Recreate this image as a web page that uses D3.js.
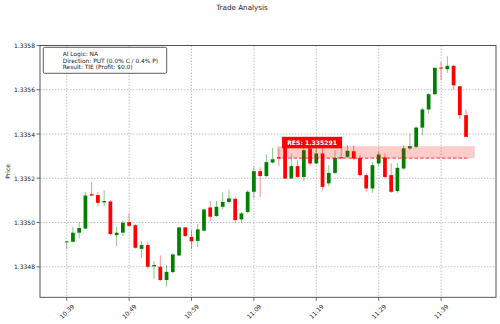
<!DOCTYPE html>
<html><head><meta charset="utf-8">
<script src="https://cdn.jsdelivr.net/npm/d3@7"></script>
<style>
html,body{margin:0;padding:0;background:#fff;}
svg{display:block;font-family:"DejaVu Sans",sans-serif;}
</style></head>
<body><svg id="c" width="500" height="324"></svg>
<script>
const times = ["10:39","10:40","10:41","10:42","10:43","10:44","10:45","10:46","10:47","10:48",
"10:49","10:50","10:51","10:52","10:53","10:54","10:55","10:56","10:57","10:58",
"10:59","11:00","11:01","11:02","11:03","11:04","11:05","11:06","11:07","11:08",
"11:09","11:10","11:11","11:12","11:13","11:14","11:15","11:16","11:17","11:18",
"11:19","11:20","11:21","11:22","11:23","11:24","11:25","11:26","11:27","11:28",
"11:29","11:30","11:31","11:32","11:33","11:34","11:35","11:36","11:37","11:38",
"11:39","11:40","11:41","11:42","11:43"];
const open = [1.334912,1.334913,1.334954,1.334973,1.335128,1.335124,1.335091,1.335095,1.334943,1.334954,
1.335002,1.334988,1.334881,1.334898,1.334802,1.334800,1.334740,1.334776,1.334851,1.334978,
1.334935,1.334917,1.334963,1.335068,1.335029,1.335071,1.335093,1.335107,1.335014,1.335048,
1.335139,1.335232,1.335210,1.335271,1.335295,1.335386,1.335199,1.335255,1.335206,1.335335,
1.335267,1.335312,1.335177,1.335224,1.335295,1.335297,1.335322,1.335292,1.335214,1.335154,
1.335267,1.335294,1.335214,1.335142,1.335244,1.335335,1.335342,1.335429,1.335511,1.335580,
1.335700,1.335693,1.335708,1.335616,1.335485];
const high = [1.334916,1.334981,1.335003,1.335139,1.335184,1.335137,1.335146,1.335101,1.334981,1.335008,
1.335041,1.334993,1.334916,1.334913,1.334826,1.334851,1.334808,1.334860,1.334979,1.334979,
1.334966,1.334993,1.335061,1.335097,1.335097,1.335136,1.335148,1.335113,1.335047,1.335146,
1.335252,1.335249,1.335308,1.335337,1.335335,1.335388,1.335312,1.335282,1.335340,1.335350,
1.335336,1.335336,1.335259,1.335327,1.335364,1.335350,1.335350,1.335304,1.335223,1.335273,
1.335319,1.335313,1.335267,1.335268,1.335350,1.335402,1.335435,1.335520,1.335584,1.335702,
1.335726,1.335751,1.335711,1.335616,1.335511];
const low = [1.334879,1.334910,1.334928,1.334970,1.335119,1.335074,1.335074,1.334943,1.334893,1.334940,
1.334979,1.334882,1.334841,1.334793,1.334746,1.334735,1.334710,1.334770,1.334848,1.334933,
1.334880,1.334889,1.334961,1.335006,1.335026,1.335059,1.335086,1.334999,1.334999,1.335041,
1.335109,1.335116,1.335206,1.335267,1.335256,1.335196,1.335196,1.335199,1.335187,1.335259,
1.335264,1.335146,1.335164,1.335219,1.335289,1.335291,1.335282,1.335207,1.335139,1.335134,
1.335256,1.335200,1.335133,1.335134,1.335237,1.335327,1.335336,1.335395,1.335493,1.335575,
1.335643,1.335676,1.335601,1.335467,1.335386];
const close = [1.334915,1.334954,1.334975,1.335122,1.335122,1.335089,1.335097,1.334948,1.334954,1.334999,
1.334985,1.334886,1.334898,1.334800,1.334808,1.334740,1.334777,1.334856,1.334978,1.334939,
1.334915,1.334969,1.335059,1.335026,1.335071,1.335093,1.335109,1.335011,1.335041,1.335139,
1.335232,1.335210,1.335273,1.335286,1.335291,1.335199,1.335255,1.335206,1.335327,1.335267,
1.335312,1.335161,1.335224,1.335292,1.335292,1.335324,1.335289,1.335214,1.335154,1.335259,
1.335307,1.335206,1.335139,1.335247,1.335335,1.335345,1.335429,1.335511,1.335580,1.335699,
1.335696,1.335708,1.335620,1.335485,1.335387];
const yTickValues = [1.3348,1.3350,1.3352,1.3354,1.3356,1.3358];
const xTickLabels = ["10:39","10:49","10:59","11:09","11:19","11:29","11:39"];
const legendLines = ["AI Logic: NA","Direction: PUT (0.0% C / 0.4% P)","Result: TIE (Profit: $0.0)"];
const resPrice = 1.335291;
const zoneTopPrice = 1.335345;
const zoneStartTime = "11:13";
const zoneEndOffset = 31.7;   // minutes after zone start (shaded zone)
const lineEndOffset = 30.9;   // minutes after zone start (dashed line)
const resLabel = "RES: 1.335291";
const titleText = "Trade Analysis";

const svg = d3.select("#c");
const L=40, R=496, T=45.5, B=297.3;
const idx = t => times.indexOf(t);
const x = d3.scaleLinear().domain([-4.28, 68.8]).range([L, R]);
const y = d3.scaleLinear().domain([1.334662, 1.3358]).range([B, T]);

// grid
const g = svg.append("g");
g.selectAll(".gy").data(yTickValues).join("line")
 .attr("x1",L).attr("x2",R).attr("y1",d=>y(d)).attr("y2",d=>y(d))
 .attr("stroke","#b0b0b0").attr("stroke-width",0.8).attr("stroke-dasharray","1.5,1.5");
g.selectAll(".gx").data(xTickLabels).join("line")
 .attr("x1",d=>x(idx(d))).attr("x2",d=>x(idx(d))).attr("y1",T).attr("y2",B)
 .attr("stroke","#b0b0b0").attr("stroke-width",0.8).attr("stroke-dasharray","1.5,1.5");

// candles
const n = times.length;
const data = d3.range(n).map(i=>({i,o:open[i],h:high[i],l:low[i],c:close[i]}));
const bw = x(0.3)-x(-0.3);
const up = d => d.c >= d.o;
svg.append("g").selectAll("line").data(data).join("line")
 .attr("x1",d=>x(d.i)).attr("x2",d=>x(d.i)).attr("y1",d=>y(d.h)).attr("y2",d=>y(d.l))
 .attr("stroke",d=>up(d)?"#008000":"#ff0000").attr("stroke-opacity",0.45).attr("stroke-width",1);
svg.append("g").selectAll("rect").data(data).join("rect")
 .attr("x",d=>x(d.i)-bw/2).attr("width",bw)
 .attr("y",d=>y(Math.max(d.o,d.c)))
 .attr("height",d=>Math.max(1,Math.abs(y(d.o)-y(d.c))))
 .attr("fill",d=>up(d)?"#008000":"#ff0000");

// resistance zone
const zs = idx(zoneStartTime) - 0.3;
svg.append("rect").attr("x",x(zs)).attr("width",x(zs+zoneEndOffset)-x(zs))
 .attr("y",y(zoneTopPrice)).attr("height",y(resPrice)-y(zoneTopPrice))
 .attr("fill","#ff0000").attr("fill-opacity",0.2);
svg.append("line").attr("x1",x(zs)).attr("x2",x(zs+lineEndOffset))
 .attr("y1",y(resPrice)).attr("y2",y(resPrice))
 .attr("stroke","#ff0000").attr("stroke-opacity",0.8).attr("stroke-width",1).attr("stroke-dasharray","3.5,2");
// label
const lx = x(idx(zoneStartTime)) + 3.2, ly = y(resPrice) - 21.3;
svg.append("rect").attr("x",lx).attr("y",ly).attr("width",60).attr("height",11.5).attr("fill","#ff0000");
svg.append("text").attr("x",lx+30).attr("y",ly+6).attr("text-anchor","middle")
 .attr("dominant-baseline","central").attr("font-size",6.1).attr("font-weight","bold")
 .attr("fill","#fff").text(resLabel);

// spines
svg.append("rect").attr("x",L).attr("y",T).attr("width",R-L).attr("height",B-T)
 .attr("fill","none").attr("stroke","#444").attr("stroke-width",0.9);

// y axis ticks
const ya = svg.append("g");
ya.selectAll("line").data(yTickValues).join("line")
 .attr("x1",L-3.5).attr("x2",L).attr("y1",d=>y(d)).attr("y2",d=>y(d)).attr("stroke","#444").attr("stroke-width",0.8);
ya.selectAll("text").data(yTickValues).join("text")
 .attr("x",L-5).attr("y",d=>y(d)).attr("text-anchor","end").attr("dominant-baseline","central")
 .attr("font-size",6).attr("fill","#222").text(d=>d3.format(".4f")(d));
// x axis ticks
const xa = svg.append("g");
xa.selectAll("line").data(xTickLabels).join("line")
 .attr("x1",d=>x(idx(d))).attr("x2",d=>x(idx(d))).attr("y1",B).attr("y2",B+3.5).attr("stroke","#444").attr("stroke-width",0.8);
xa.selectAll("text").data(xTickLabels).join("text")
 .attr("transform",d=>`translate(${x(idx(d))},${B+14})rotate(-45)`)
 .attr("text-anchor","middle").attr("dominant-baseline","central")
 .attr("font-size",6).attr("fill","#222").text(d=>d);

// axis label
svg.append("text").attr("transform",`translate(7,${(T+B)/2})rotate(-90)`)
 .attr("text-anchor","middle").attr("dominant-baseline","central").attr("font-size",6).attr("fill","#222").text("Price");
// title
svg.append("text").attr("x",242).attr("y",7.5).attr("text-anchor","middle").attr("dominant-baseline","central")
 .attr("font-size",7.2).attr("fill","#222").text(titleText);

// legend
svg.append("rect").attr("x",43.3).attr("y",47.3).attr("width",123.4).attr("height",26).attr("rx",1.5)
 .attr("fill","#fff").attr("fill-opacity",0.85).attr("stroke","#333").attr("stroke-width",0.8);
svg.append("g").selectAll("text").data(legendLines).join("text")
 .attr("x",62.7).attr("y",(d,i)=>54+i*6.7).attr("dominant-baseline","central")
 .attr("font-size",5.9).attr("fill","#222").text(d=>d);
</script></body></html>
